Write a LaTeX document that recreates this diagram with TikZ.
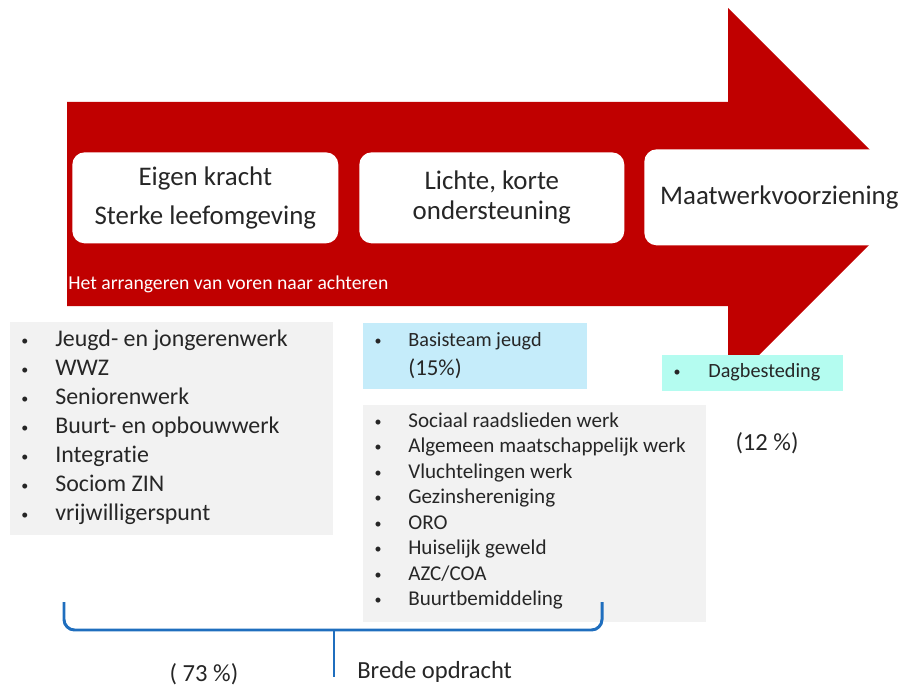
\documentclass[tikz,border=0pt]{standalone}
\usepackage{fontspec}
\setmainfont{Carlito}[Ligatures=NoCommon]
\usetikzlibrary{positioning}
\definecolor{arrowred}{RGB}{192,0,0}
\definecolor{listgrey}{RGB}{242,242,242}
\definecolor{teamblue}{RGB}{197,236,250}
\definecolor{dagcyan}{RGB}{180,252,240}
\definecolor{braceblue}{RGB}{31,110,190}
\definecolor{textgrey}{RGB}{38,38,38}

\begin{document}
\begin{tikzpicture}[
    x=0.02cm, y=-0.02cm,
    stage/.style={rectangle, rounded corners=7pt, fill=white, inner sep=0pt,
                  anchor=north west, align=center, text=textgrey,
                  font=\fontsize{15.3}{18}\selectfont},
    listbox/.style={rectangle, inner sep=0pt, anchor=north west},
    dot/.style={inner sep=0pt, text=textgrey, font=\fontsize{8}{10}\selectfont},
    item/.style={inner sep=0pt, anchor=mid west, text=textgrey},
    share/.style={inner sep=0pt, text=textgrey, font=\fontsize{14}{16}\selectfont},
    brace/.style={draw=braceblue, line width=1.7pt},
  ]
    \useasboundingbox (0,0) rectangle (906,686);

    % big arrow
    \begin{scope}
      \clip (0,0) rectangle (906,686);
      \fill[arrowred] (67,102) -- (728,102) -- (728,8) -- (917,197)
                      -- (728,386) -- (728,306) -- (67,306) -- cycle;
    \end{scope}

    \node[stage, minimum width=5.32cm, minimum height=1.82cm] (own) at (72,152)
      {Eigen kracht\\[4pt]Sterke leefomgeving};
    \node[stage, minimum width=5.3cm, minimum height=1.82cm] (light) at (359,152)
      {Lichte, korte\\[-1pt]ondersteuning};
    \node[stage, minimum width=5.4cm, minimum height=1.92cm] (custom) at (644,149)
      {Maatwerkvoorziening};
    \node[inner sep=0pt, anchor=mid west, text=white, font=\fontsize{11.2}{13}\selectfont]
      (front) at (68,285) {Het arrangeren van voren naar achteren};

    % list boxes
    \node[listbox, fill=listgrey, minimum width=6.46cm, minimum height=4.26cm] (basic) at (10,322) {};
    \node[listbox, fill=teamblue, minimum width=4.48cm, minimum height=1.32cm] (team) at (363,323) {};
    \node[listbox, fill=dagcyan, minimum width=3.62cm, minimum height=0.72cm] (day) at (662,355) {};
    \node[listbox, fill=listgrey, minimum width=6.86cm, minimum height=4.34cm] (broad) at (363,405) {};

    \foreach \txt [count=\i] in {Jeugd- en jongerenwerk, WWZ, Seniorenwerk,
        Buurt- en opbouwwerk, Integratie, Sociom ZIN, vrijwilligerspunt}{
      \node[dot] (basic-dot-\i) at (25,{342+29*(\i-1)}) {\textbullet};
      \node[item, font=\fontsize{13.6}{15}\selectfont] (basic-\i) at (55,{342+29*(\i-1)}) {\txt};
    }

    \node[dot] (team-dot) at (378,342) {\textbullet};
    \node[item, font=\fontsize{11.5}{13}\selectfont] (team-1) at (408,342) {Basisteam jeugd};
    \node[item, font=\fontsize{13}{15}\selectfont] (team-2) at (408,371) {(15\%)};

    \node[dot] (day-dot) at (677,373) {\textbullet};
    \node[item, font=\fontsize{11.5}{13}\selectfont] (day-1) at (708,373) {Dagbesteding};

    \foreach \txt [count=\i] in {Sociaal raadslieden werk, Algemeen maatschappelijk werk,
        Vluchtelingen werk, Gezinshereniging, ORO, Huiselijk geweld, AZC/COA, Buurtbemiddeling}{
      \node[dot] (broad-dot-\i) at (378,{423+25.5*(\i-1)}) {\textbullet};
      \node[item, font=\fontsize{12}{14}\selectfont] (broad-\i) at (408,{423+25.5*(\i-1)}) {\txt};
    }

    \node[share] (custom-share) at (767,443) {(12 \%)};

    % brace
    \coordinate (brace-l) at (64,602);
    \coordinate (brace-m) at (334,630);
    \coordinate (brace-r) at (602,602);
    \coordinate (brace-tip) at (334,677);
    \draw[brace, rounded corners=6pt] (brace-l) |- (brace-m) -| (brace-r);
    \draw[brace] (brace-m) -- (brace-tip);

    \node[share] (basic-share) at (204,674) {( 73 \%)};
    \node[share, anchor=mid west] (brede) at (357,674) {Brede opdracht};
\end{tikzpicture}
\end{document}
